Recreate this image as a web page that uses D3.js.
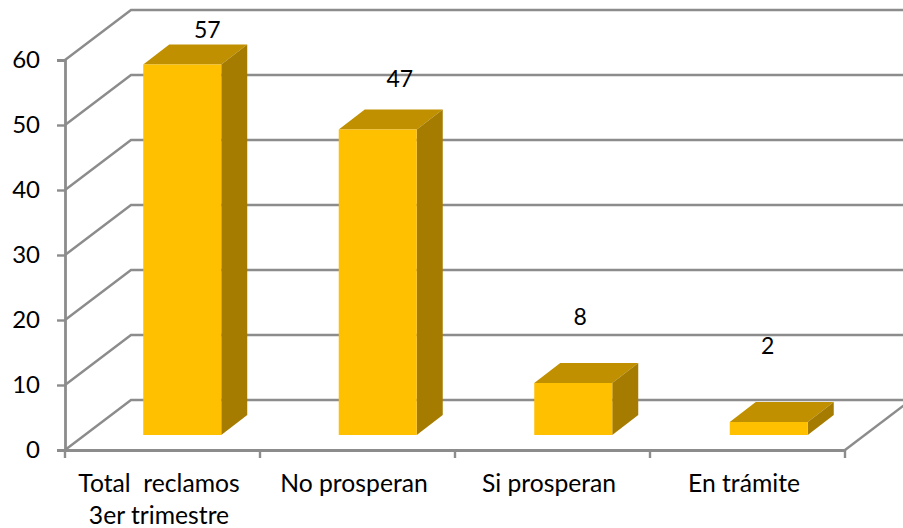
<!DOCTYPE html>
<html>
<head>
<meta charset="utf-8">
<script src="https://cdn.jsdelivr.net/npm/d3@7"></script>
<style>
    html, body { margin: 0; padding: 0; background: #fff; overflow: hidden; }
    svg { display: block; }
    text { font-family: Lato, "Noto Sans", sans-serif; fill: #000; }
</style>
</head>
<body>
<div id="chart"></div>
<script>
const categories = ['Total  reclamos|3er trimestre', 'No prosperan', 'Si prosperan', 'En trámite'];
const values = [57, 47, 8, 2];
const yTicks = [0, 10, 20, 30, 40, 50, 60];

const width = 903, height = 528;
const grey = '#8c8c8c';
const wall = { dx: 66, dy: -50 };       // back wall offset
const front = { dx: 19.5, dy: -15 };    // front face of the bars
const depth = { dx: 26, dy: -20 };      // thickness of the bars
// labels were moved by hand in the original
const labelLift = [31, 47, 62, 72];
const labelShift = [0, -3, -18, -26];

const svg = d3.select('#chart').append('svg')
    .attr('width', width)
    .attr('height', height)
    .attr('viewBox', [0, 0, width, height]);

const x = d3.scaleBand().domain(categories).range([65, 845]);
const xBars = d3.scaleBand().domain(categories).range([65, 847]);
const y = d3.scaleLinear().domain([0, 60]).range([450, 60]);
const line = d3.line();
const barW = 78;

// walls
const grid = svg.append('g')
    .attr('fill', 'none')
    .attr('stroke', grey)
    .attr('stroke-width', 2.4);

yTicks.forEach(t => {
    grid.append('path').attr('d', line([
        [x.range()[0], y(t)],
        [x.range()[0] + wall.dx, y(t) + wall.dy],
        [x.range()[1] + wall.dx, y(t) + wall.dy]
    ]));
});
grid.append('path').attr('d', line([
    [x.range()[1], y(0)],
    [x.range()[1] + wall.dx, y(0) + wall.dy]
]));

// bars
const bars = svg.append('g').selectAll('g')
    .data(values)
    .join('g');

const barLeft = (d, i) => xBars(categories[i]) + (xBars.bandwidth() - barW) / 2 + front.dx;

bars.append('path')
    .attr('fill', '#C09000')
    .attr('d', (d, i) => {
        const l = barLeft(d, i), t = y(d) + front.dy;
        return line([[l, t], [l + depth.dx, t + depth.dy], [l + barW + depth.dx, t + depth.dy], [l + barW, t]]) + 'Z';
    });

bars.append('path')
    .attr('fill', '#A67C00')
    .attr('d', (d, i) => {
        const r = barLeft(d, i) + barW, t = y(d) + front.dy, b = y(0) + front.dy;
        return line([[r, t], [r + depth.dx, t + depth.dy], [r + depth.dx, b + depth.dy], [r, b]]) + 'Z';
    });

bars.append('rect')
    .attr('fill', '#FFC000')
    .attr('x', barLeft)
    .attr('y', d => y(d) + front.dy)
    .attr('width', barW)
    .attr('height', d => y(0) - y(d));

bars.append('text')
    .attr('x', (d, i) => barLeft(d, i) + barW / 2 + 25 + labelShift[i])
    .attr('y', (d, i) => y(d) + front.dy + depth.dy - labelLift[i] + 24)
    .attr('text-anchor', 'middle')
    .attr('font-size', 23)
    .text(d => d);

// axes
const yAxis = svg.append('g')
    .attr('transform', `translate(${x.range()[0]},0)`)
    .call(d3.axisLeft(y).tickValues(yTicks).tickSize(8).tickPadding(17));

const xAxis = svg.append('g')
    .attr('transform', `translate(0,${y(0)})`)
    .call(d3.axisBottom(x).tickSize(0).tickFormat(''));

xAxis.selectAll('.tick').remove();
xAxis.selectAll('.xtick')
    .data([...categories.map(c => x(c)), x.range()[1]])
    .join('line')
    .attr('x1', d => d)
    .attr('x2', d => d)
    .attr('y1', 0)
    .attr('y2', 8);

[yAxis, xAxis].forEach(a => {
    a.selectAll('path, line').attr('stroke', grey).attr('stroke-width', 2.4);
    a.select('.domain').attr('stroke-width', 2.8);
});
yAxis.selectAll('text').attr('font-size', 24).attr('fill', '#000');

// category labels, first one runs on two lines
categories.forEach(c => {
    c.split('|').forEach((part, n) => {
        svg.append('text')
            .attr('x', x(c) + x.bandwidth() / 2 - 3.5)
            .attr('y', 492 + n * 32)
            .attr('text-anchor', 'middle')
            .attr('font-size', 24.7)
            .style('white-space', 'pre')
            .text(part);
    });
});
</script>
</body>
</html>
